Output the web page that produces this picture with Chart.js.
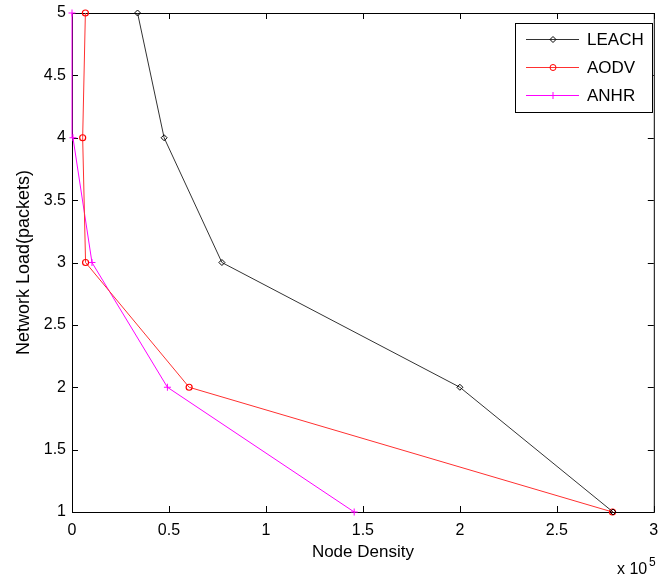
<!DOCTYPE html>
<html>
<head>
<meta charset="utf-8">
<script src="https://cdn.jsdelivr.net/npm/chart.js@4"></script>
<style>
  body { margin: 0; background: #fff; }
  #wrap { width: 659px; height: 576px; }
</style>
</head>
<body>
<div id="wrap"><canvas id="chart" width="659" height="576"></canvas></div>
<script>
// network load levels (y) and node density for each protocol (x, raw values)
const loadLevels = [1, 2, 3, 4, 5];
const leachDensity = [279000, 200000, 77300, 47500, 33800];
const aodvDensity = [278700, 60400, 7000, 5500, 6900];
const anhrDensity = [145500, 49200, 10300, 500, 0];

const seriesNames = ["LEACH", "AODV", "ANHR"];
const xTicks = [0, 50000, 100000, 150000, 200000, 250000, 300000];

const FONT = "'Liberation Sans', Arial, sans-serif";

function toPoints(xs) {
    return xs.map((x, i) => ({ x: x, y: loadLevels[i] }));
}

// box round the plot, ticks pointing inwards on all four sides
const framePlugin = {
    id: "frame",
    beforeDatasetsDraw(chart) {
        const { ctx, chartArea: a, scales } = chart;
        ctx.save();
        ctx.strokeStyle = "#000";
        ctx.lineWidth = 1;
        ctx.strokeRect(a.left + 0.5, a.top + 0.5, a.right - a.left, a.bottom - a.top);
        ctx.beginPath();
        scales.x.ticks.forEach(t => {
            const px = Math.round(scales.x.getPixelForValue(t.value)) + 0.5;
            ctx.moveTo(px, a.bottom); ctx.lineTo(px, a.bottom - 6);
            ctx.moveTo(px, a.top); ctx.lineTo(px, a.top + 6);
        });
        scales.y.ticks.forEach(t => {
            const py = Math.round(scales.y.getPixelForValue(t.value)) + 0.5;
            ctx.moveTo(a.left, py); ctx.lineTo(a.left + 6, py);
            ctx.moveTo(a.right, py); ctx.lineTo(a.right - 6, py);
        });
        ctx.stroke();
        ctx.restore();
    },
    afterDraw(chart) {
        const { ctx } = chart;
        ctx.save();
        // exponent label
        ctx.fillStyle = "#000";
        ctx.textBaseline = "alphabetic";
        ctx.font = "16px " + FONT;
        ctx.fillText("x 10", 617, 574);
        ctx.font = "12px " + FONT;
        ctx.fillText("5", 649, 566);

        // legend
        const lx = 515, ly = 23, lw = 137, lh = 89;
        ctx.fillStyle = "#fff";
        ctx.fillRect(lx, ly, lw, lh);
        ctx.strokeStyle = "#000";
        ctx.lineWidth = 1;
        ctx.strokeRect(lx + 0.5, ly + 0.5, lw, lh);
        const rows = [39, 67, 95];
        chart.data.datasets.forEach((ds, i) => {
            const y = rows[i];
            ctx.strokeStyle = ds.borderColor;
            ctx.lineWidth = 1;
            ctx.beginPath();
            ctx.moveTo(526, y + 0.5);
            ctx.lineTo(579, y + 0.5);
            ctx.stroke();
            ctx.fillStyle = "rgba(0,0,0,0)";
            ctx.strokeStyle = ds.pointBorderColor;
            ctx.lineWidth = 1;
            Chart.helpers.drawPoint(ctx, {
                pointStyle: ds.pointStyle,
                radius: ds.pointRadius,
                rotation: 0,
                borderWidth: 1
            }, 553, y + 0.5);
            ctx.fillStyle = "#000";
            ctx.font = "17px " + FONT;
            ctx.textBaseline = "middle";
            ctx.fillText(ds.label, 587, y + 1);
        });
        ctx.restore();
    }
};

new Chart(document.getElementById("chart"), {
    type: "line",
    data: {
        datasets: [
            {
                label: seriesNames[0],
                data: toPoints(leachDensity),
                borderColor: "#333333",
                borderWidth: 1,
                pointStyle: "rectRot",
                pointRadius: 3,
                pointBorderColor: "#000000",
                pointBackgroundColor: "rgba(0,0,0,0)",
                pointBorderWidth: 1,
                clip: false
            },
            {
                label: seriesNames[1],
                data: toPoints(aodvDensity),
                borderColor: "#ff3030",
                borderWidth: 1,
                pointStyle: "circle",
                pointRadius: 3,
                pointBorderColor: "#ff0000",
                pointBackgroundColor: "rgba(0,0,0,0)",
                pointBorderWidth: 1.2,
                clip: false
            },
            {
                label: seriesNames[2],
                data: toPoints(anhrDensity),
                borderColor: "#ff00ff",
                borderWidth: 1,
                pointStyle: "cross",
                pointRadius: 3.5,
                pointBorderColor: "#ff00ff",
                pointBackgroundColor: "#ff00ff",
                pointBorderWidth: 1,
                clip: false
            }
        ]
    },
    options: {
        responsive: false,
        animation: false,
        layout: { padding: { top: 13, right: 2, left: 0, bottom: 0 } },
        plugins: {
            legend: { display: false },
            tooltip: { enabled: false }
        },
        scales: {
            x: {
                type: "linear",
                min: 0,
                max: 300000,
                afterBuildTicks: scale => {
                    scale.ticks = xTicks.map(v => ({ value: v }));
                },
                afterFit: scale => {
                    scale.height = 64;
                    scale.paddingLeft = 0;
                    scale.paddingRight = 0;
                },
                grid: { display: false, drawTicks: false },
                border: { display: false },
                ticks: {
                    color: "#000",
                    padding: 9,
                    maxRotation: 0,
                    autoSkip: false,
                    font: { family: FONT, size: 16 },
                    callback: v => String(v / 100000)
                },
                title: {
                    display: true,
                    text: "Node Density",
                    color: "#000",
                    font: { family: FONT, size: 17 },
                    padding: { top: 0, bottom: 13 }
                }
            },
            y: {
                min: 1,
                max: 5,
                ticks: {
                    stepSize: 0.5,
                    color: "#000",
                    padding: 6,
                    font: { family: FONT, size: 16 },
                    callback: v => String(v)
                },
                afterFit: scale => {
                    scale.width = 72;
                    scale.paddingTop = 0;
                    scale.paddingBottom = 0;
                },
                grid: { display: false, drawTicks: false },
                border: { display: false },
                title: {
                    display: true,
                    text: "Network Load(packets)",
                    color: "#000",
                    font: { family: FONT, size: 18 },
                    padding: { top: 13, bottom: 0 }
                }
            }
        }
    },
    plugins: [framePlugin]
});
</script>
</body>
</html>
